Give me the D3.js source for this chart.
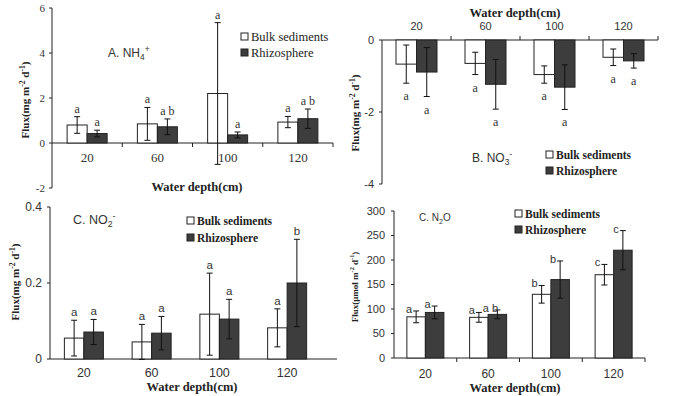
<!DOCTYPE html>
<html>
<head>
<meta charset="utf-8">
<script src="https://cdn.jsdelivr.net/npm/d3@7/dist/d3.min.js"></script>
<style>
  body { margin: 0; background: #fff; }
</style>
</head>
<body>
<script>
const depths = ['20', '60', '100', '120'];
const seriesNames = ['Bulk sediments', 'Rhizosphere'];

// A. NH4+
const nh4Bulk = [0.8, 0.85, 2.2, 0.93];
const nh4BulkErr = [0.37, 0.73, 3.15, 0.25];
const nh4Rhizo = [0.42, 0.72, 0.36, 1.08];
const nh4RhizoErr = [0.15, 0.35, 0.13, 0.43];
const nh4BulkLetters = ['a', 'a', 'a', 'a'];
const nh4RhizoLetters = ['a', 'a b', 'a', 'a b'];

// B. NO3-
const no3Bulk = [-0.67, -0.65, -0.96, -0.48];
const no3BulkErr = [0.53, 0.31, 0.24, 0.23];
const no3Rhizo = [-0.89, -1.23, -1.31, -0.58];
const no3RhizoErr = [0.68, 0.69, 0.62, 0.2];
const no3BulkLetters = ['a', 'a', 'a', 'a'];
const no3RhizoLetters = ['a', 'a', 'a', 'a'];

// C. NO2-
const no2Bulk = [0.055, 0.045, 0.118, 0.082];
const no2BulkErr = [0.047, 0.046, 0.108, 0.05];
const no2Rhizo = [0.071, 0.068, 0.105, 0.2];
const no2RhizoErr = [0.033, 0.044, 0.052, 0.115];
const no2BulkLetters = ['a', 'a', 'a', 'a'];
const no2RhizoLetters = ['a', 'a', 'a', 'b'];

// N2O
const n2oBulk = [84, 83, 130, 170];
const n2oBulkErr = [12, 10, 18, 21];
const n2oRhizo = [93, 89, 160, 220];
const n2oRhizoErr = [13, 9, 38, 40];
const n2oBulkLetters = ['a', 'a', 'b', 'c'];
const n2oRhizoLetters = ['a', 'a b', 'b', 'c'];

const SERIF = '"Liberation Serif", "Times New Roman", serif';
const SANS = '"Liberation Sans", Arial, sans-serif';
const DARK = '#3d3d3d';

const svg = d3.select('body').append('svg').attr('width', 674).attr('height', 396);

// text with sub/superscript pieces: [[text, 'sup'|'sub'|null], ...]
function richText(g, parts, size) {
  let shift = 0;
  parts.forEach(function (p) {
    const t = g.append('tspan').text(p[0]);
    let target = 0;
    if (p[1] === 'sup') target = -size * 0.4;
    if (p[1] === 'sub') target = size * 0.25;
    t.attr('dy', target - shift);
    if (p[1]) t.attr('font-size', size * 0.7);
    shift = target;
  });
}

function drawPanel(c) {
  const g = svg.append('g');
  const x = d3.scaleBand().domain(depths).range(c.xRange);
  const y = d3.scaleLinear().domain(c.yDomain).range(c.yRange);
  const y0 = y(0);

  // y axis
  g.append('line')
    .attr('x1', c.xRange[0]).attr('x2', c.xRange[0])
    .attr('y1', c.yRange[0]).attr('y2', c.yRange[1])
    .attr('stroke', '#222');
  g.selectAll('.ytick').data(c.yTicks).enter().append('line')
    .attr('x1', c.xRange[0] - 3).attr('x2', c.xRange[0])
    .attr('y1', function (d) { return y(d); }).attr('y2', function (d) { return y(d); })
    .attr('stroke', '#222');
  g.selectAll('.ylab').data(c.yTicks).enter().append('text')
    .attr('x', c.xRange[0] - c.yLabGap)
    .attr('y', function (d) { return y(d) + c.yTickSize * 0.35; })
    .attr('text-anchor', 'end')
    .attr('font-family', c.yTickFont).attr('font-size', c.yTickSize).attr('fill', '#333')
    .text(c.yFmt);

  // x axis
  g.append('line')
    .attr('x1', c.xRange[0]).attr('x2', c.axisEnd)
    .attr('y1', y0).attr('y2', y0)
    .attr('stroke', '#222');
  if (c.xTickDir) {
    g.selectAll('.xtick').data(depths).enter().append('line')
      .attr('x1', function (d) { return x(d) + x.bandwidth(); })
      .attr('x2', function (d) { return x(d) + x.bandwidth(); })
      .attr('y1', y0).attr('y2', y0 + 4 * c.xTickDir)
      .attr('stroke', '#222');
  }
  g.selectAll('.xlab').data(depths).enter().append('text')
    .attr('x', function (d) { return x(d) + x.bandwidth() / 2; })
    .attr('y', c.xLabY)
    .attr('text-anchor', 'middle')
    .attr('font-family', c.xTickFont).attr('font-size', c.xTickSize).attr('fill', '#333')
    .text(function (d) { return d; });

  // bars
  const groups = [
    { vals: c.bulk, err: c.bulkErr, letters: c.bulkLetters, fill: '#fff', off: -c.barW },
    { vals: c.rhizo, err: c.rhizoErr, letters: c.rhizoLetters, fill: DARK, off: 0 }
  ];
  groups.forEach(function (s) {
    const rows = depths.map(function (d, i) {
      return { d: d, v: s.vals[i], e: s.err[i], l: s.letters[i] };
    });
    const cx = function (r) { return x(r.d) + x.bandwidth() / 2 + s.off; };
    g.selectAll(null).data(rows).enter().append('rect')
      .attr('x', cx)
      .attr('y', function (r) { return Math.min(y(r.v), y0); })
      .attr('width', c.barW)
      .attr('height', function (r) { return Math.abs(y(r.v) - y0); })
      .attr('fill', s.fill).attr('stroke', '#222').attr('stroke-width', 1);
    const mid = function (r) { return cx(r) + c.barW / 2; };
    const eb = g.selectAll(null).data(rows).enter().append('g').attr('stroke', '#111');
    eb.append('line')
      .attr('x1', mid).attr('x2', mid)
      .attr('y1', function (r) { return y(r.v + r.e); })
      .attr('y2', function (r) { return y(r.v - r.e); });
    [1, -1].forEach(function (sg) {
      eb.append('line')
        .attr('x1', function (r) { return mid(r) - 3; })
        .attr('x2', function (r) { return mid(r) + 3; })
        .attr('y1', function (r) { return y(r.v + sg * r.e); })
        .attr('y2', function (r) { return y(r.v + sg * r.e); });
    });
    g.selectAll(null).data(rows).enter().append('text')
      .attr('x', function (r) { return mid(r) + c.letterDx; })
      .attr('y', function (r) {
        return c.lettersBelow ? y(r.v - r.e) + 17 : y(r.v + r.e) + c.letterDy;
      })
      .attr('text-anchor', 'middle')
      .attr('font-family', c.letterFont).attr('font-size', c.letterSize).attr('fill', '#333')
      .text(function (r) { return r.l; });
  });

  // panel label
  const lab = g.append('text')
    .attr('x', c.label.x).attr('y', c.label.y)
    .attr('font-family', SANS).attr('font-size', c.label.size).attr('fill', '#333');
  richText(lab, c.label.parts, c.label.size);

  // legend
  seriesNames.forEach(function (n, i) {
    const ly = c.legend.y + i * c.legend.step;
    g.append('rect')
      .attr('x', c.legend.x).attr('y', ly - 4)
      .attr('width', 7).attr('height', 7)
      .attr('fill', i === 0 ? '#fff' : DARK).attr('stroke', '#222');
    g.append('text')
      .attr('x', c.legend.x + 10).attr('y', ly + 4)
      .attr('font-family', SERIF).attr('font-size', c.legend.size)
      .attr('font-weight', c.legend.bold ? 'bold' : 'normal').attr('fill', '#222')
      .text(n);
  });

  // axis titles
  g.append('text')
    .attr('x', c.xTitle.x).attr('y', c.xTitle.y)
    .attr('text-anchor', 'middle')
    .attr('font-family', SERIF).attr('font-weight', 'bold').attr('font-size', 12.5).attr('fill', '#222')
    .text('Water depth(cm)');
  const yt = g.append('text')
    .attr('transform', 'translate(' + c.yTitle.x + ',' + c.yTitle.y + ') rotate(-90)')
    .attr('text-anchor', 'middle')
    .attr('font-family', SERIF).attr('font-weight', 'bold').attr('font-size', c.yTitle.size).attr('fill', '#222');
  richText(yt, c.yTitle.parts, c.yTitle.size);
}

const fluxMg = [['Flux(mg m', null], ['-2', 'sup'], [' d', null], ['-1', 'sup'], [')', null]];

drawPanel({
  xRange: [52, 333], axisEnd: 333, yDomain: [-2, 6], yRange: [188, 8],
  yTicks: [-2, 0, 2, 4, 6], yFmt: function (d) { return d; }, yTickFont: SERIF, yTickSize: 11, yLabGap: 7,
  xTickDir: 1, xLabY: 162, xTickFont: SERIF, xTickSize: 13,
  barW: 20,
  bulk: nh4Bulk, bulkErr: nh4BulkErr, bulkLetters: nh4BulkLetters,
  rhizo: nh4Rhizo, rhizoErr: nh4RhizoErr, rhizoLetters: nh4RhizoLetters,
  letterFont: SERIF, letterSize: 12, letterDx: 0, letterDy: -4, lettersBelow: false,
  label: { x: 108, y: 57, size: 12, parts: [['A. NH', null], ['4', 'sub'], ['+', 'sup']] },
  legend: { x: 241, y: 37, step: 16, size: 12.5, bold: false },
  xTitle: { x: 197, y: 191 },
  yTitle: { x: 29, y: 100, size: 11, parts: fluxMg }
});

drawPanel({
  xRange: [382, 658], axisEnd: 658, yDomain: [-4, 0], yRange: [184, 40],
  yTicks: [-4, -2, 0], yFmt: function (d) { return d; }, yTickFont: SANS, yTickSize: 11, yLabGap: 8,
  xTickDir: -1, xLabY: 30, xTickFont: SANS, xTickSize: 11,
  barW: 20.5,
  bulk: no3Bulk, bulkErr: no3BulkErr, bulkLetters: no3BulkLetters,
  rhizo: no3Rhizo, rhizoErr: no3RhizoErr, rhizoLetters: no3RhizoLetters,
  letterFont: SERIF, letterSize: 12, letterDx: 0, letterDy: 0, lettersBelow: true,
  label: { x: 472, y: 162, size: 12, parts: [['B. NO', null], ['3', 'sub'], ['-', 'sup']] },
  legend: { x: 546, y: 155, step: 16, size: 11.5, bold: true },
  xTitle: { x: 515, y: 17 },
  yTitle: { x: 359, y: 113, size: 11, parts: fluxMg }
});

drawPanel({
  xRange: [50, 321], axisEnd: 337, yDomain: [0, 0.4], yRange: [359, 207],
  yTicks: [0, 0.2, 0.4], yFmt: function (d) { return d; }, yTickFont: SANS, yTickSize: 12, yLabGap: 8,
  xTickDir: 0, xLabY: 377, xTickFont: SANS, xTickSize: 12.5,
  barW: 19.5,
  bulk: no2Bulk, bulkErr: no2BulkErr, bulkLetters: no2BulkLetters,
  rhizo: no2Rhizo, rhizoErr: no2RhizoErr, rhizoLetters: no2RhizoLetters,
  letterFont: SANS, letterSize: 11.5, letterDx: 0, letterDy: -4, lettersBelow: false,
  label: { x: 73, y: 224, size: 12.5, parts: [['C. NO', null], ['2', 'sub'], ['-', 'sup']] },
  legend: { x: 187, y: 221, step: 17, size: 11.5, bold: true },
  xTitle: { x: 192, y: 391 },
  yTitle: { x: 19, y: 282, size: 11, parts: fluxMg }
});

drawPanel({
  xRange: [394, 645], axisEnd: 645, yDomain: [0, 300], yRange: [358, 211],
  yTicks: [0, 50, 100, 150, 200, 250, 300], yFmt: function (d) { return d; }, yTickFont: SANS, yTickSize: 11, yLabGap: 9,
  xTickDir: 1, xLabY: 378, xTickFont: SANS, xTickSize: 12,
  barW: 18.5,
  bulk: n2oBulk, bulkErr: n2oBulkErr, bulkLetters: n2oBulkLetters,
  rhizo: n2oRhizo, rhizoErr: n2oRhizoErr, rhizoLetters: n2oRhizoLetters,
  letterFont: SANS, letterSize: 11, letterDx: -7, letterDy: 2, lettersBelow: false,
  label: { x: 419, y: 221, size: 10, parts: [['C. N', null], ['2', 'sub'], ['O', null]] },
  legend: { x: 515, y: 214, step: 16, size: 11.5, bold: true },
  xTitle: { x: 515, y: 392 },
  yTitle: { x: 358, y: 287, size: 9, parts: [['Flux(μmol m', null], ['-2', 'sup'], [' d', null], ['-1', 'sup'], [')', null]] }
});
</script>
</body>
</html>
